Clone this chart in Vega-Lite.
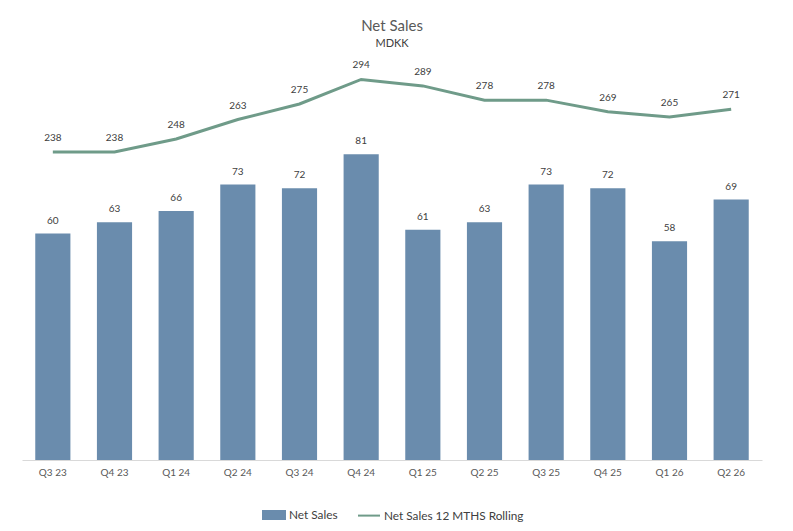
{
  "$schema": "https://vega.github.io/schema/vega-lite/v6.json",
  "width": 740,
  "height": 400,
  "autosize": {"type": "none"},
  "padding": {"left": 22, "top": 60, "right": 31, "bottom": 71},
  "background": "white",
  "title": {
    "text": "Net Sales",
    "subtitle": "MDKK",
    "anchor": "middle",
    "font": "Lato",
    "fontSize": 15,
    "fontWeight": "normal",
    "color": "#595959",
    "subtitleFont": "Lato",
    "subtitleFontSize": 11,
    "subtitleColor": "#404040",
    "subtitlePadding": 4,
    "offset": 11
  },
  "data": {
    "values": [
      {"quarter": "Q3 23", "sales": 60, "rolling": 238},
      {"quarter": "Q4 23", "sales": 63, "rolling": 238},
      {"quarter": "Q1 24", "sales": 66, "rolling": 248},
      {"quarter": "Q2 24", "sales": 73, "rolling": 263},
      {"quarter": "Q3 24", "sales": 72, "rolling": 275},
      {"quarter": "Q4 24", "sales": 81, "rolling": 294},
      {"quarter": "Q1 25", "sales": 61, "rolling": 289},
      {"quarter": "Q2 25", "sales": 63, "rolling": 278},
      {"quarter": "Q3 25", "sales": 73, "rolling": 278},
      {"quarter": "Q4 25", "sales": 72, "rolling": 269},
      {"quarter": "Q1 26", "sales": 58, "rolling": 265},
      {"quarter": "Q2 26", "sales": 69, "rolling": 271}
    ]
  },
  "encoding": {
    "x": {
      "field": "quarter",
      "type": "nominal",
      "sort": null,
      "scale": {"paddingInner": 0.43, "paddingOuter": 0.215},
      "axis": {
        "title": null,
        "labelAngle": 0,
        "ticks": false,
        "domainColor": "#d9d9d9",
        "labelColor": "#595959",
        "labelFont": "Lato",
        "labelFontSize": 10,
        "labelPadding": 7
      }
    }
  },
  "layer": [
    {
      "mark": {"type": "bar"},
      "encoding": {
        "y": {"field": "sales", "type": "quantitative", "scale": {"domain": [0, 106]}, "axis": null},
        "color": {
          "datum": "Net Sales",
          "type": "nominal",
          "scale": {
            "domain": ["Net Sales", "Net Sales 12 MTHS Rolling"],
            "range": ["#6a8cad", "#6f9b89"]
          },
          "legend": {
            "title": null,
            "orient": "none",
            "direction": "horizontal",
            "legendX": 240,
            "legendY": 443,
            "labelFont": "Lato",
            "labelFontSize": 11.8,
            "labelColor": "#404040",
            "labelOffset": 3,
            "columnPadding": 16,
            "symbolSize": 484,
            "symbolStrokeWidth": 2,
            "encode": {
              "symbols": {
                "update": {
                  "shape": {"signal": "datum.value === 'Net Sales' ? 'M-1,-0.36H1V0.36H-1Z' : 'M-1,0H1'"},
                  "fill": {"signal": "datum.value === 'Net Sales' ? '#6a8cad' : 'transparent'"},
                  "stroke": {"signal": "datum.value === 'Net Sales' ? 'transparent' : '#6f9b89'"},
                  "opacity": {"value": 1}
                }
              }
            }
          }
        }
      }
    },
    {
      "mark": {"type": "text", "dy": -13, "font": "Lato", "fontSize": 10, "color": "#404040"},
      "encoding": {
        "y": {"field": "sales", "type": "quantitative", "scale": {"domain": [0, 106]}, "axis": null},
        "text": {"field": "sales"}
      }
    },
    {
      "mark": {"type": "line", "strokeWidth": 3},
      "encoding": {
        "y": {"field": "rolling", "type": "quantitative", "scale": {"domain": [0, 309]}, "axis": null},
        "color": {"datum": "Net Sales 12 MTHS Rolling", "type": "nominal"}
      }
    },
    {
      "mark": {"type": "text", "dy": -14, "font": "Lato", "fontSize": 10, "color": "#404040"},
      "encoding": {
        "y": {"field": "rolling", "type": "quantitative", "scale": {"domain": [0, 309]}, "axis": null},
        "text": {"field": "rolling"}
      }
    }
  ],
  "resolve": {"scale": {"y": "independent"}},
  "config": {"view": {"stroke": null}}
}
